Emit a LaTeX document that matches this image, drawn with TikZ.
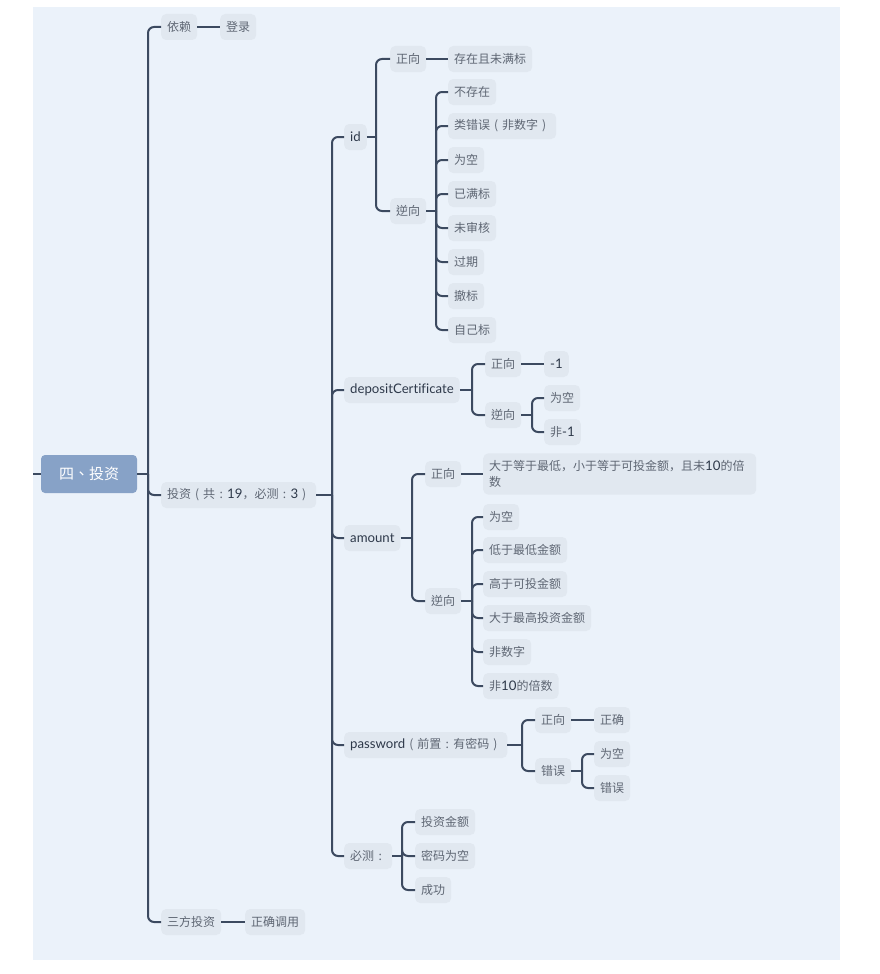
\documentclass[tikz,border=0pt]{standalone}
\usepackage{fontspec}
\setmainfont{Noto Sans CJK TC}
\newfontfamily\scfont{Noto Sans CJK SC}
\newfontfamily\latinfont[Ligatures=NoCommon, Scale=1.1]{Lato}
\usepackage{tikz}
\usetikzlibrary{positioning}
\usepackage{xcolor}

\definecolor{panelbg}{HTML}{EBF2FA}
\definecolor{topicbg}{HTML}{E1E8F0}
\definecolor{topictxt}{HTML}{5E6673}
\definecolor{darktxt}{HTML}{2E394A}
\definecolor{linkcol}{HTML}{3C4A60}
\definecolor{rootbg}{HTML}{87A2C7}

\newcommand{\latn}[1]{{\latinfont\color{darktxt}#1}}
\newcommand{\lpar}{\makebox[12pt]{(}}
\newcommand{\rpar}{\makebox[12pt]{)}}
\newcommand{\cjkcolon}{\makebox[12pt]{:}}
\newcommand{\cjkcomma}{{\scfont ，}}

\tikzset{
    topic/.style={anchor=west, fill=topicbg, text=topictxt, rounded corners=5pt,
        inner xsep=6pt, inner ysep=0pt, minimum height=26pt,
        font=\fontsize{12}{16}\selectfont},
    rootbox/.style={fill=rootbg, text=white, rounded corners=4pt,
        minimum width=96pt, minimum height=38pt, font=\fontsize{15}{18}\selectfont},
    link/.style={draw=linkcol, line width=2pt},
    elbow/.style={link, rounded corners=6pt},
}

\begin{document}
\begin{tikzpicture}[x=1pt, y=-1pt]
    \useasboundingbox (0,0) rectangle (879,974);
    \fill[panelbg] (33,7) rectangle (840,960);

    % Root
    \node[rootbox] (root) at (89,474) {四、投资};
    \coordinate (edge) at (33,474);
    \draw[link] (edge) -- (root);

    % First level
    \node[topic] (dep) at (161,27) {依赖};
    \node[topic] (login) at (220,27) {登录};
    \node[topic] (inv) at (161,495) {投资\lpar 共\cjkcolon\latn{19}\cjkcomma 必测\cjkcolon\latn{3}\rpar};
    \node[topic] (third) at (161,922) {三方投资};
    \node[topic] (call) at (245,922) {正确调用};
    \coordinate (j0) at (148,474);
    \draw[link] (root) -- (j0);
    \foreach \c in {dep,inv,third} {
        \draw[elbow] (j0) |- (\c.west);
    }
    \draw[link] (dep) -- (login);
    \draw[link] (third) -- (call);

    % Parameters
    \node[topic] (id) at (344,137) {\latn{id}};
    \node[topic] (dc) at (344,390) {\latn{depositCertificate}};
    \node[topic] (amt) at (344,538) {\latn{amount}};
    \node[topic] (pwd) at (344,745) {\latn{password}\lpar 前置\cjkcolon 有密码\rpar};
    \node[topic] (must) at (344,856) {必测\cjkcolon};
    \coordinate (j1) at (332,495);
    \draw[link] (inv) -- (j1);
    \foreach \c in {id,dc,amt,pwd,must} {
        \draw[elbow] (j1) |- (\c.west);
    }

    % id
    \node[topic] (idpos) at (390,59) {正向};
    \node[topic] (idneg) at (390,211) {逆向};
    \node[topic] (idok) at (448,59) {存在且未满标};
    \coordinate (j2) at (376,137);
    \draw[link] (id) -- (j2);
    \draw[elbow] (j2) |- (idpos.west);
    \draw[elbow] (j2) |- (idneg.west);
    \draw[link] (idpos) -- (idok);
    \coordinate (j3) at (436,211);
    \draw[link] (idneg) -- (j3);
    \foreach \i/\txt in {1/不存在, 2/类错误\lpar 非数字\rpar, 3/为空, 4/已满标, 5/未审核, 6/过期, 7/撤标, 8/自己标} {
        \node[topic] (idn\i) at (448,{58+34*\i}) {\txt};
        \draw[elbow] (j3) |- (idn\i.west);
    }

    % depositCertificate
    \node[topic] (dcpos) at (485,364) {正向};
    \node[topic] (dcneg) at (485,415) {逆向};
    \node[topic] (dcok) at (544,364) {\latn{-1}};
    \node[topic] (dcn1) at (544,398) {为空};
    \node[topic] (dcn2) at (544,432) {非\latn{-1}};
    \coordinate (j4) at (472,390);
    \draw[link] (dc) -- (j4);
    \draw[elbow] (j4) |- (dcpos.west);
    \draw[elbow] (j4) |- (dcneg.west);
    \draw[link] (dcpos) -- (dcok);
    \coordinate (j5) at (532,415);
    \draw[link] (dcneg) -- (j5);
    \draw[elbow] (j5) |- (dcn1.west);
    \draw[elbow] (j5) |- (dcn2.west);

    % amount
    \node[topic] (amtpos) at (425,474) {正向};
    \node[topic] (amtneg) at (425,601) {逆向};
    \node[topic, text width=261pt, align=left, inner ysep=7pt] (amtok) at (483,474)
        {大于等于最低\cjkcomma 小于等于可投金额\cjkcomma 且未\latn{10}的倍\\数};
    \coordinate (j6) at (412,538);
    \draw[link] (amt) -- (j6);
    \draw[elbow] (j6) |- (amtpos.west);
    \draw[elbow] (j6) |- (amtneg.west);
    \draw[link] (amtpos) -- (amtok);
    \coordinate (j7) at (472,601);
    \draw[link] (amtneg) -- (j7);
    \foreach \i/\y/\txt in {1/517/为空, 2/550/低于最低金额, 3/584/高于可投金额, 4/618/大于最高投资金额, 5/652/非数字, 6/686/非\latn{10}的倍数} {
        \node[topic] (amtn\i) at (483,\y) {\txt};
        \draw[elbow] (j7) |- (amtn\i.west);
    }

    % password
    \node[topic] (pwdpos) at (535,720) {正向};
    \node[topic] (pwdneg) at (535,771) {错误};
    \node[topic] (pwdok) at (594,720) {正确};
    \node[topic] (pwdn1) at (594,754) {为空};
    \node[topic] (pwdn2) at (594,788) {错误};
    \coordinate (j8) at (522,745);
    \draw[link] (pwd) -- (j8);
    \draw[elbow] (j8) |- (pwdpos.west);
    \draw[elbow] (j8) |- (pwdneg.west);
    \draw[link] (pwdpos) -- (pwdok);
    \coordinate (j9) at (582,771);
    \draw[link] (pwdneg) -- (j9);
    \draw[elbow] (j9) |- (pwdn1.west);
    \draw[elbow] (j9) |- (pwdn2.west);

    % must-test cases
    \coordinate (j10) at (402,856);
    \draw[link] (must) -- (j10);
    \foreach \i/\y/\txt in {1/822/投资金额, 2/856/密码为空, 3/890/成功} {
        \node[topic] (mustn\i) at (415,\y) {\txt};
        \draw[elbow] (j10) |- (mustn\i.west);
    }
\end{tikzpicture}
\end{document}
